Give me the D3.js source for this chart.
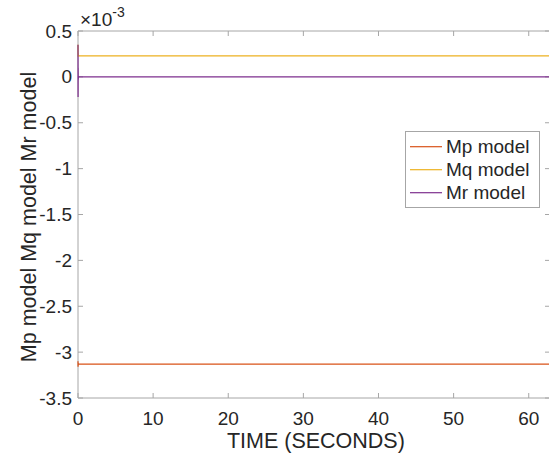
<!DOCTYPE html>
<meta charset="utf-8">
<html>
<head>
  <script src="https://d3js.org/d3.v7.min.js" charset="utf-8"></script>
</head>
<style>
body { margin: 0; background: white; }
text { font-family: "Liberation Sans", Arial, sans-serif; fill: #262626; }
</style>
<body>
<div id="container"></div>
<script type="text/javascript">

// time in seconds, values in units of 1e-3
var time = [0, 0.01, 0.02, 0.03, 0.05, 62.83]
var mp = [-3.10, -3.16, -3.12, -3.13, -3.131, -3.131]
var mq = [0.35, 0.22, 0.26, 0.23, 0.228, 0.228]
var mr = [0.35, -0.22, 0.10, -0.03, 0, 0]
var seriesNames = ["Mp model", "Mq model", "Mr model"]
var colors = ["#D95319", "#EDB120", "#7E2F8E"]
var xTicks = [0, 10, 20, 30, 40, 50, 60]
var yTicks = [0.5, 0, -0.5, -1, -1.5, -2, -2.5, -3, -3.5]

var width = 549, height = 457
var margin = {left: 78, right: -1, top: 31, bottom: 59}

var svg = d3.select("#container").append("svg")
            .attr("width", width).attr("height", height)

var x = d3.scaleLinear().domain([0, 62.83]).range([margin.left, width - margin.right])
var y = d3.scaleLinear().domain([-3.5, 0.5]).range([height - margin.bottom, margin.top])

var axisColor = "#a6a6a6"
var tickLen = 5

// box
svg.append("line").attr("x1", x(0)).attr("x2", x(62.83)).attr("y1", y(0.5)).attr("y2", y(0.5)).attr("stroke", axisColor)
svg.append("line").attr("x1", x(0)).attr("x2", x(62.83)).attr("y1", y(-3.5)).attr("y2", y(-3.5)).attr("stroke", axisColor)
svg.append("line").attr("x1", x(0)).attr("x2", x(0)).attr("y1", y(0.5)).attr("y2", y(-3.5)).attr("stroke", axisColor)
svg.append("line").attr("x1", x(62.83)).attr("x2", x(62.83)).attr("y1", y(0.5)).attr("y2", y(-3.5)).attr("stroke", axisColor)

// x ticks (bottom and top, inward)
xTicks.forEach(function(t) {
  svg.append("line").attr("x1", x(t)).attr("x2", x(t)).attr("y1", y(-3.5)).attr("y2", y(-3.5) - tickLen).attr("stroke", axisColor)
  svg.append("line").attr("x1", x(t)).attr("x2", x(t)).attr("y1", y(0.5)).attr("y2", y(0.5) + tickLen).attr("stroke", axisColor)
  svg.append("text").attr("x", x(t)).attr("y", 425).attr("text-anchor", "middle")
     .attr("font-size", "19px").text(t)
})

// y ticks (left and right, inward)
yTicks.forEach(function(t) {
  svg.append("line").attr("x1", x(0)).attr("x2", x(0) + tickLen).attr("y1", y(t)).attr("y2", y(t)).attr("stroke", axisColor)
  svg.append("line").attr("x1", x(62.83)).attr("x2", x(62.83) - tickLen).attr("y1", y(t)).attr("y2", y(t)).attr("stroke", axisColor)
  svg.append("text").attr("x", 72).attr("y", y(t)).attr("text-anchor", "end")
     .attr("dominant-baseline", "central").attr("font-size", "19px").text(String(t))
})

// exponent
var ex = svg.append("text").attr("x", 80).attr("y", 26).attr("font-size", "19px")
ex.append("tspan").text("\u00d710")
ex.append("tspan").attr("dy", -9).attr("font-size", "14px").text("-3")

// axis labels
svg.append("text").attr("x", x(31.4) + 2).attr("y", 448).attr("text-anchor", "middle")
   .attr("font-size", "21.5px").text("TIME (SECONDS)")
svg.append("text").attr("transform", "translate(36," + 217 + ") rotate(-90)")
   .attr("text-anchor", "middle").attr("font-size", "21.5px").text("Mp model Mq model Mr model")

// lines
var line = d3.line().x(function(d) { return x(d[0]) }).y(function(d) { return y(d[1]) })
var allSeries = [mp, mq, mr]
allSeries.forEach(function(vals, i) {
  svg.append("path").datum(time.map(function(t, j) { return [t, vals[j]] }))
     .attr("d", line).attr("fill", "none").attr("stroke", colors[i]).attr("stroke-width", 1.2)
})

// legend
var legend = svg.append("g").attr("id", "legend")
legend.append("rect").attr("x", 405.5).attr("y", 131.5).attr("width", 134).attr("height", 76)
      .attr("fill", "white").attr("stroke", "#a6a6a6")
seriesNames.forEach(function(name, i) {
  var cy = 146.7 + i * 23
  legend.append("line").attr("x1", 410).attr("x2", 442).attr("y1", cy).attr("y2", cy)
        .attr("stroke", colors[i]).attr("stroke-width", 1.2)
  legend.append("text").attr("x", 446).attr("y", cy).attr("dominant-baseline", "central")
        .attr("font-size", "19px").text(name)
})

</script>
</body>
</html>
